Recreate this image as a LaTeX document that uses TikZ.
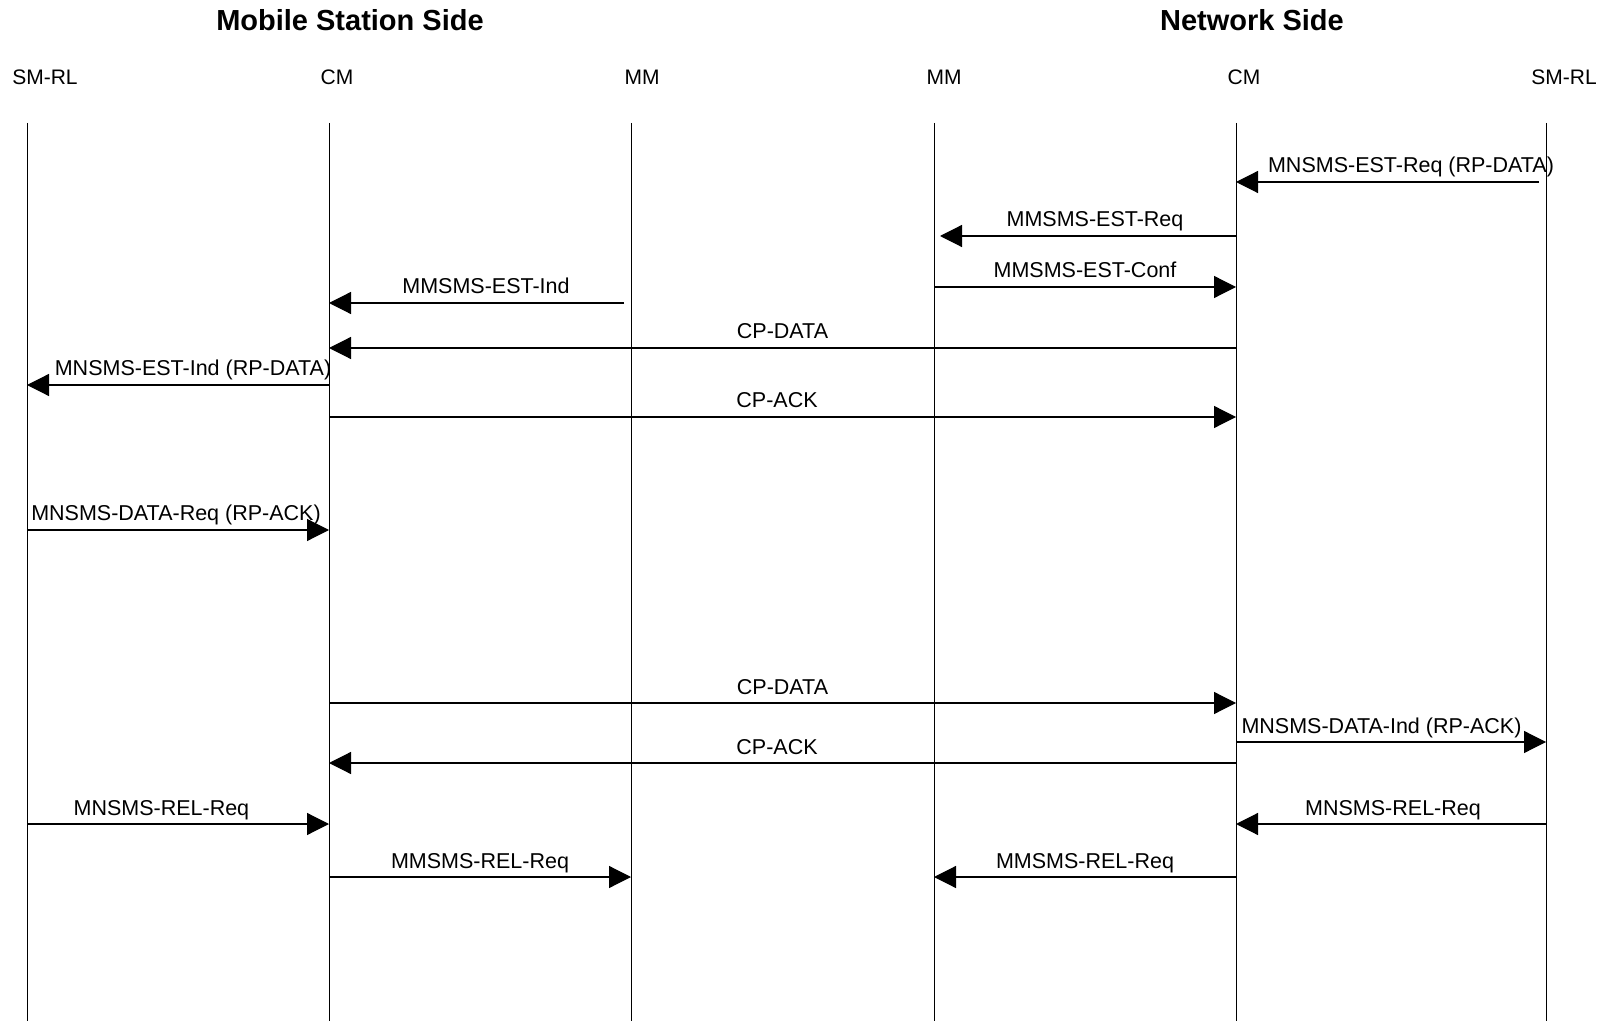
\documentclass[tikz,border=0pt]{standalone}
\usepackage{fontspec}
\setmainfont{Liberation Sans}
\usetikzlibrary{arrows.meta,positioning}
\tikzset{
  side/.style ={font=\fontsize{14.5}{16}\selectfont\bfseries,anchor=base,inner sep=0pt},
  ent/.style  ={font=\fontsize{10.5}{12}\selectfont,anchor=base,inner sep=0pt},
  life/.style ={line width=0.5pt},
  ar/.style   ={line width=0.6pt,-{Triangle[length=11pt,width=11pt]}},
  lbl/.style  ={font=\fontsize{10.75}{12}\selectfont,anchor=base,inner sep=0pt,yshift=4.5pt},
}

\begin{document}
\begin{tikzpicture}[x=0.5pt,y=-0.5pt]
\useasboundingbox (0,0) rectangle (1607,1021);
% sides
\node[side] (MST) at (350,31) {Mobile Station Side};
\node[side] (NWT) at (1252,31) {Network Side};
% entities
\node[ent] (MSRL) at (45,85) {SM-RL};
\node[ent] (MSCM) at (337,85) {CM};
\node[ent] (MSMM) at (642,85) {MM};
\node[ent] (NWMM) at (944,85) {MM};
\node[ent] (NWCM) at (1244,85) {CM};
\node[ent] (NWRL) at (1564,85) {SM-RL};
% lifelines
\foreach \n/\x in {MSRL/27,MSCM/329,MSMM/631,NWMM/934,NWCM/1236,NWRL/1546}{
  \coordinate (\n t) at (\x,123);
  \coordinate (\n b) at (\x,1021);
  \draw[life] (\n t) -- (\n b);
}
% establishment
\draw[ar,shorten <=3.5pt] (NWRLt |- 0,182) -- node[lbl,xshift=10pt]{MNSMS-EST-Req (RP-DATA)} (NWCMt |- 0,182);
\draw[ar,shorten >=3pt] (NWCMt |- 0,236) -- node[lbl,xshift=5pt]{MMSMS-EST-Req} (NWMMt |- 0,236);
\draw[ar] (NWMMt |- 0,287) -- node[lbl]{MMSMS-EST-Conf} (NWCMt |- 0,287);
\draw[ar,shorten <=3.5pt] (MSMMt |- 0,303) -- node[lbl,xshift=3pt]{MMSMS-EST-Ind} (MSCMt |- 0,303);
\draw[ar] (NWCMt |- 0,348) -- node[lbl]{CP-DATA} (MSCMt |- 0,348);
\draw[ar] (MSCMt |- 0,385) -- node[lbl,xshift=7.5pt]{MNSMS-EST-Ind (RP-DATA)} (MSRLt |- 0,385);
\draw[ar] (MSCMt |- 0,417) -- node[lbl,xshift=-2.75pt]{CP-ACK} (NWCMt |- 0,417);
% acknowledgement
\draw[ar] (MSRLt |- 0,530) -- node[lbl,xshift=-1pt]{MNSMS-DATA-Req (RP-ACK)} (MSCMt |- 0,530);
\draw[ar] (MSCMt |- 0,703) -- node[lbl]{CP-DATA} (NWCMt |- 0,703);
\draw[ar] (NWCMt |- 0,742) -- node[lbl,xshift=-4.75pt]{MNSMS-DATA-Ind (RP-ACK)} (NWRLt |- 0,742);
\draw[ar] (NWCMt |- 0,763) -- node[lbl,xshift=-2.75pt]{CP-ACK} (MSCMt |- 0,763);
% release
\draw[ar] (MSRLt |- 0,824) -- node[lbl,xshift=-8.3pt]{MNSMS-REL-Req} (MSCMt |- 0,824);
\draw[ar] (NWRLt |- 0,824) -- node[lbl,xshift=1pt]{MNSMS-REL-Req} (NWCMt |- 0,824);
\draw[ar] (MSCMt |- 0,877) -- node[lbl]{MMSMS-REL-Req} (MSMMt |- 0,877);
\draw[ar] (NWCMt |- 0,877) -- node[lbl]{MMSMS-REL-Req} (NWMMt |- 0,877);
\end{tikzpicture}
\end{document}
